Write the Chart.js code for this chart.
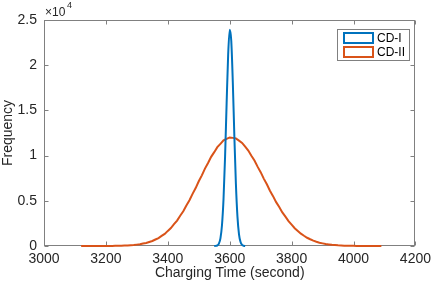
<!DOCTYPE html>
<html>
<head>
<meta charset="utf-8">
<script src="https://cdn.jsdelivr.net/npm/chart.js@4.4.1/dist/chart.umd.min.js"></script>
<style>
html,body{margin:0;padding:0;background:#fff}
</style>
</head>
<body>
<canvas id="chart" width="436" height="284"></canvas>
<script>
// charging time histograms (counts per bin)
const seriesNames = ["CD-I", "CD-II"]
const seriesColors = ["#0072BD", "#D95319"]

const cd1Start = 3550, cd1Step = 5
const cd1Counts = [3,15,70,267,852,2295,5191,9867,15770,21180,23917,22703,18118,12150,6853,3248,1294,433,122,29,6]

const cd2Start = 3120, cd2Step = 10
const cd2Counts = [
  0,0,0,1,1,2,3,4,6,8,
  11,16,22,33,44,61,83,110,152,196,
  265,336,445,552,718,880,1118,1344,1672,1983,
  2410,2815,3350,3842,4480,5060,5770,6410,7165,7815,
  8560,9180,9860,10380,10935,11300,11680,11850,12010,11960,
  11910,11660,11410,10980,10565,9990,9450,8780,8170,7455,
  6830,6120,5515,4850,4305,3715,3245,2750,2365,1970,
  1665,1362,1130,910,744,588,472,366,290,220,
  171,129,99,72,55,40,29,21,15,11,
  8,6,4,3,2,1,1,0
]

const xTicks = [3000,3200,3400,3600,3800,4000,4200]
const yTicks = [0,5000,10000,15000,20000,25000]

const toPoints = (start, step, counts) => counts.map((v,i)=>({x:start+i*step, y:v}))

const axisColor = "#808080"
const textColor = "#262626"
const fontFamily = "'Liberation Sans', Arial, Helvetica, sans-serif"

// box, inward ticks, exponent label and legend like the matlab figure
const framePlugin = {
  id: "frame",
  beforeDatasetsDraw(chart){
    const {ctx, chartArea:a, scales:{x,y}} = chart
    ctx.save()
    ctx.strokeStyle = axisColor
    ctx.lineWidth = 1
    const L = Math.round(a.left)+0.5, R = Math.round(a.right)-0.5
    const T = Math.round(a.top)+0.5, B = Math.round(a.bottom)-0.5
    ctx.strokeRect(L, T, R-L, B-T)
    ctx.beginPath()
    xTicks.forEach(t=>{
      const px = Math.round(x.getPixelForValue(t))+0.5
      ctx.moveTo(px,B); ctx.lineTo(px,B-4)
      ctx.moveTo(px,T); ctx.lineTo(px,T+4)
    })
    yTicks.forEach(t=>{
      const py = Math.round(y.getPixelForValue(t))+0.5
      ctx.moveTo(L,py); ctx.lineTo(L+4,py)
      ctx.moveTo(R,py); ctx.lineTo(R-4,py)
    })
    ctx.stroke()
    ctx.restore()
  },
  afterDraw(chart){
    const {ctx, chartArea:a} = chart
    ctx.save()
    // exponent
    ctx.fillStyle = textColor
    ctx.textBaseline = "alphabetic"
    ctx.textAlign = "left"
    ctx.font = "12px " + fontFamily
    ctx.fillText("\u00d710", a.left+1, 16)
    ctx.font = "9px " + fontFamily
    ctx.fillText("4", a.left+23, 8)
    // legend
    const bx = 337.5, by = 29.5, bw = 72, bh = 31
    ctx.fillStyle = "#fff"
    ctx.fillRect(bx, by, bw, bh)
    ctx.strokeStyle = axisColor
    ctx.lineWidth = 1
    ctx.strokeRect(bx, by, bw, bh)
    chart.data.datasets.forEach((ds,i)=>{
      const ry = 33 + i*14
      ctx.fillStyle = "#fff"
      ctx.fillRect(344, ry, 29, 10)
      ctx.strokeStyle = ds.borderColor
      ctx.lineWidth = 2
      ctx.strokeRect(344, ry, 29, 10)
      ctx.fillStyle = "#000"
      ctx.font = "12px " + fontFamily
      ctx.textBaseline = "middle"
      ctx.fillText(ds.label, 377, ry+5.5)
    })
    ctx.restore()
  }
}

new Chart(document.getElementById("chart"), {
  type: "line",
  data: {
    datasets: [
      {label: seriesNames[0], data: toPoints(cd1Start, cd1Step, cd1Counts), borderColor: seriesColors[0], borderWidth: 2, pointRadius: 0, cubicInterpolationMode: "monotone", clip: false},
      {label: seriesNames[1], data: toPoints(cd2Start, cd2Step, cd2Counts), borderColor: seriesColors[1], borderWidth: 2, pointRadius: 0, clip: false}
    ]
  },
  options: {
    responsive: false,
    animation: false,
    layout: {padding: {top: 20, right: 17, left: 0, bottom: 0}},
    plugins: {legend: {display: false}, tooltip: {enabled: false}},
    scales: {
      x: {
        type: "linear", min: 3000, max: 4200,
        afterFit: s=>{ s.height = 38 },
        afterBuildTicks: s=>{ s.ticks = xTicks.map(v=>({value:v})) },
        grid: {display: false, drawTicks: false},
        border: {display: false},
        ticks: {color: textColor, font: {size: 14, family: fontFamily}, padding: 5, maxRotation: 0, callback: v=>String(v)},
        title: {display: true, text: "Charging Time (second)", color: textColor, font: {size: 14, family: fontFamily}, padding: {top: 0, bottom: 2}}
      },
      y: {
        min: 0, max: 25000,
        afterFit: s=>{ s.width = 44 },
        afterBuildTicks: s=>{ s.ticks = yTicks.map(v=>({value:v})) },
        grid: {display: false, drawTicks: false},
        border: {display: false},
        ticks: {color: textColor, font: {size: 14, family: fontFamily}, padding: 7, callback: v=>String(v/10000)},
        title: {display: true, text: "Frequency", color: textColor, font: {size: 14, family: fontFamily}, padding: {top: 0, bottom: 0}}
      }
    }
  },
  plugins: [framePlugin]
})
</script>
</body>
</html>
